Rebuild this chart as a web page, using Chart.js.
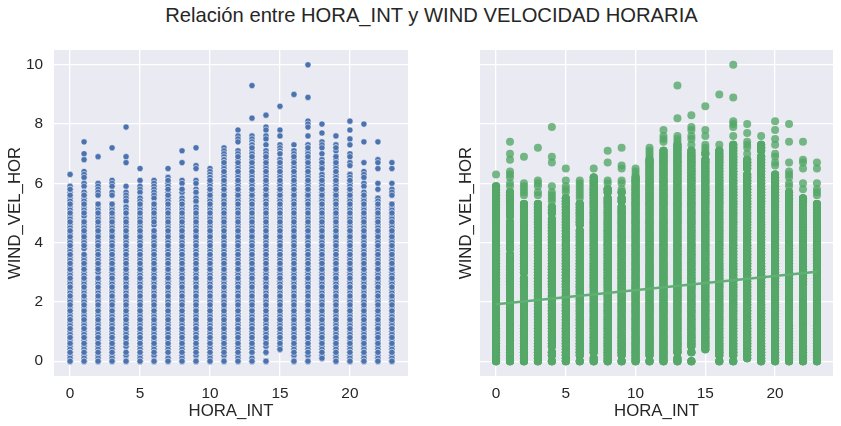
<!DOCTYPE html>
<html><head><meta charset="utf-8">
<script src="https://cdn.jsdelivr.net/npm/chart.js@4"></script>
<style>
html,body{margin:0;padding:0;background:#fff;width:841px;height:426px;overflow:hidden;font-family:"Liberation Sans",Arial,sans-serif}
#t{position:absolute;left:0;top:2px;width:863px;text-align:center;font-size:20.2px;line-height:26px;color:#262626;font-weight:normal;margin:0}
canvas{position:absolute;top:0}
</style></head><body>
<h1 id="t">Relación entre HORA_INT y WIND VELOCIDAD HORARIA</h1>
<canvas id="a" style="left:0"></canvas>
<canvas id="b" style="left:426px"></canvas>
<script>
const xLabel = "HORA_INT";
const yLabel = "WIND_VEL_HOR";
const xTicks = [0,5,10,15,20];
const yTicks = [0,2,4,6,8,10];
const regX = [0,23];
const regY = [1.92,3.02];
// values drawn last in each column: the most frequent readings
const frequent = [0,0.3,0.6,0.8,1.1,1.4,1.7,1.9,2.2,2.5,2.8,3.1,3.3,3.6,3.9,4.2,4.4,4.7,5.0,5.3,5.6,5.8,6.1,6.4,6.7,6.9,7.2];
// per hour, the level below which the column is many observations deep
const denseTop = [5.9,5.7,5.3,5.3,5.2,5.5,5.3,6.2,5.8,5.7,6.2,6.8,7.1,7.3,7.1,7.0,7.1,7.3,6.8,7.3,6.3,5.7,5.5,5.3];
const h0=[6.3,5.9,5.8,5.7,5.6,5.5,5.4,5.3,5.2,5.1,5.0,4.9,4.8,4.7,4.6,4.5,4.4,4.3,4.2,4.1,4.0,3.9,3.8,3.7,3.6,3.5,3.4,3.3,3.2,3.1,3.0,2.9,2.8,2.7,2.6,2.5,2.4,2.3,2.2,2.1,2.0,1.9,1.8,1.7,1.6,1.5,1.4,1.3,1.2,1.1,1.0,0.9,0.8,0.7,0.6,0.5,0.4,0.3,0.2,0.1,0];
const h1=[7.4,7.0,6.8,6.4,6.3,6.2,6.0,5.9,5.7,5.6,5.5,5.4,5.3,5.2,5.1,5.0,4.9,4.7,4.6,4.5,4.4,4.3,4.2,4.1,4.0,3.9,3.8,3.6,3.5,3.4,3.3,3.2,3.1,3.0,2.9,2.8,2.7,2.6,2.5,2.4,2.3,2.2,2.1,2.0,1.9,1.8,1.7,1.6,1.5,1.4,1.3,1.2,1.1,1.0,0.9,0.8,0.7,0.6,0.5,0.4,0.3,0.2,0.1,0];
const h2=[6.9,6.0,5.9,5.8,5.7,5.6,5.3,5.2,5.1,5.0,4.9,4.8,4.7,4.6,4.5,4.4,4.3,4.2,4.1,4.0,3.9,3.8,3.7,3.6,3.5,3.4,3.3,3.2,3.1,3.0,2.8,2.7,2.6,2.5,2.4,2.3,2.2,2.1,2.0,1.9,1.8,1.7,1.6,1.5,1.4,1.3,1.2,1.1,1.0,0.9,0.8,0.7,0.6,0.5,0.4,0.3,0.2,0.1,0];
const h3=[7.2,6.1,6.0,5.9,5.7,5.6,5.3,5.2,5.1,5.0,4.9,4.8,4.7,4.6,4.5,4.4,4.3,4.2,4.1,4.0,3.9,3.8,3.7,3.6,3.5,3.4,3.3,3.2,3.1,3.0,2.9,2.8,2.7,2.6,2.5,2.4,2.3,2.2,2.1,2.0,1.9,1.8,1.7,1.6,1.5,1.4,1.3,1.2,1.1,1.0,0.9,0.8,0.7,0.6,0.5,0.4,0.3,0.2,0.1,0];
const h4=[7.9,6.9,6.7,5.9,5.7,5.6,5.5,5.4,5.2,5.1,5.0,4.8,4.7,4.6,4.5,4.4,4.3,4.2,4.1,4.0,3.9,3.8,3.7,3.6,3.5,3.4,3.3,3.2,3.1,3.0,2.9,2.8,2.7,2.6,2.5,2.4,2.3,2.2,2.1,2.0,1.9,1.8,1.7,1.6,1.5,1.4,1.3,1.2,1.1,1.0,0.9,0.8,0.7,0.6,0.5,0.3,0.2,0];
const h5=[6.5,6.1,5.9,5.8,5.7,5.5,5.4,5.3,5.2,5.1,5.0,4.9,4.8,4.7,4.6,4.5,4.4,4.3,4.2,4.1,4.0,3.9,3.8,3.7,3.6,3.5,3.4,3.3,3.2,3.1,3.0,2.9,2.8,2.7,2.6,2.5,2.4,2.3,2.2,2.1,2.0,1.9,1.8,1.7,1.6,1.5,1.4,1.3,1.2,1.1,1.0,0.9,0.8,0.7,0.6,0.5,0.4,0.3,0.2,0.1,0];
const h6=[6.1,6.0,5.9,5.8,5.7,5.6,5.5,5.3,5.2,5.1,5.0,4.9,4.8,4.7,4.6,4.4,4.3,4.2,4.1,4.0,3.9,3.8,3.7,3.6,3.5,3.4,3.3,3.2,3.1,3.0,2.9,2.8,2.7,2.6,2.5,2.4,2.3,2.2,2.1,2.0,1.9,1.8,1.7,1.6,1.5,1.4,1.3,1.2,1.1,1.0,0.9,0.8,0.7,0.6,0.5,0.4,0.3,0.2,0];
const h7=[6.5,6.2,6.1,6.0,5.9,5.8,5.7,5.6,5.5,5.4,5.3,5.2,5.1,5.0,4.9,4.8,4.7,4.6,4.5,4.4,4.3,4.2,4.1,4.0,3.9,3.8,3.7,3.6,3.5,3.4,3.3,3.2,3.1,3.0,2.9,2.8,2.7,2.6,2.5,2.4,2.3,2.2,2.1,2.0,1.9,1.8,1.7,1.6,1.5,1.4,1.3,1.2,1.1,1.0,0.9,0.8,0.7,0.6,0.5,0.4,0.3,0.1,0];
const h8=[7.1,6.7,6.1,6.0,5.8,5.7,5.5,5.4,5.3,5.2,5.1,5.0,4.9,4.8,4.7,4.6,4.5,4.4,4.3,4.2,4.1,4.0,3.9,3.8,3.7,3.6,3.5,3.4,3.3,3.2,3.1,3.0,2.9,2.8,2.7,2.6,2.5,2.4,2.3,2.2,2.1,2.0,1.9,1.8,1.7,1.6,1.5,1.4,1.3,1.2,1.1,1.0,0.9,0.8,0.7,0.6,0.5,0.4,0.3,0.2,0.1,0];
const h9=[7.2,6.6,6.5,6.1,6.0,5.8,5.7,5.5,5.4,5.2,5.1,5.0,4.9,4.8,4.7,4.6,4.5,4.4,4.3,4.2,4.1,4.0,3.9,3.8,3.7,3.6,3.5,3.4,3.3,3.2,3.1,3.0,2.9,2.8,2.7,2.6,2.5,2.4,2.3,2.2,2.1,2.0,1.9,1.8,1.7,1.6,1.5,1.4,1.3,1.2,1.1,1.0,0.9,0.8,0.7,0.6,0.5,0.4,0.3,0.2,0];
const h10=[6.5,6.4,6.3,6.2,6.1,6.0,5.9,5.8,5.7,5.6,5.5,5.4,5.3,5.2,5.1,5.0,4.9,4.8,4.7,4.6,4.5,4.4,4.3,4.2,4.1,4.0,3.9,3.8,3.7,3.6,3.5,3.4,3.3,3.2,3.1,3.0,2.9,2.8,2.7,2.6,2.5,2.4,2.3,2.2,2.1,2.0,1.9,1.8,1.7,1.6,1.5,1.4,1.3,1.2,1.1,1.0,0.9,0.8,0.7,0.6,0.5,0.4,0.3,0.2,0.1,0];
const h11=[7.2,7.1,7.0,6.9,6.8,6.7,6.6,6.5,6.4,6.3,6.2,6.1,6.0,5.9,5.8,5.7,5.6,5.5,5.4,5.3,5.2,5.1,5.0,4.9,4.8,4.7,4.6,4.5,4.4,4.3,4.2,4.1,4.0,3.9,3.8,3.7,3.6,3.5,3.4,3.3,3.2,3.1,3.0,2.9,2.8,2.7,2.6,2.5,2.4,2.3,2.2,2.1,2.0,1.9,1.8,1.7,1.6,1.5,1.4,1.3,1.2,1.1,1.0,0.9,0.8,0.7,0.6,0.5,0.4,0.3,0.2,0];
const h12=[7.8,7.6,7.5,7.4,7.1,7.0,6.9,6.8,6.7,6.6,6.5,6.4,6.3,6.2,6.1,6.0,5.9,5.8,5.7,5.6,5.5,5.4,5.3,5.2,5.1,5.0,4.9,4.8,4.7,4.6,4.5,4.4,4.3,4.2,4.1,4.0,3.9,3.8,3.7,3.6,3.5,3.4,3.3,3.2,3.1,3.0,2.9,2.8,2.7,2.6,2.5,2.4,2.3,2.2,2.1,2.0,1.9,1.8,1.7,1.6,1.5,1.4,1.3,1.2,1.1,1.0,0.9,0.8,0.7,0.6,0.5,0.4,0.3,0.2,0.1,0];
const h13=[9.3,8.2,7.6,7.5,7.4,7.3,7.2,7.1,7.0,6.9,6.8,6.7,6.6,6.5,6.4,6.3,6.2,6.1,6.0,5.9,5.8,5.7,5.6,5.5,5.4,5.3,5.2,5.1,5.0,4.9,4.8,4.7,4.6,4.5,4.4,4.3,4.2,4.1,4.0,3.9,3.8,3.7,3.6,3.5,3.4,3.3,3.2,3.1,3.0,2.9,2.8,2.7,2.6,2.5,2.4,2.3,2.2,2.1,2.0,1.9,1.8,1.7,1.6,1.5,1.4,1.3,1.2,1.1,1.0,0.9,0.8,0.7,0.6,0.5,0.4,0.3,0.1,0];
const h14=[8.3,7.9,7.8,7.6,7.5,7.3,7.1,7.0,6.9,6.8,6.7,6.6,6.5,6.4,6.3,6.2,6.1,6.0,5.9,5.8,5.7,5.6,5.5,5.4,5.3,5.2,5.1,5.0,4.9,4.8,4.7,4.6,4.5,4.4,4.3,4.2,4.1,4.0,3.9,3.8,3.7,3.6,3.5,3.4,3.3,3.2,3.1,3.0,2.9,2.8,2.7,2.6,2.5,2.4,2.3,2.2,2.1,2.0,1.9,1.8,1.7,1.6,1.5,1.4,1.3,1.2,1.1,1.0,0.9,0.8,0.7,0.6,0.5,0.3,0];
const h15=[8.6,7.8,7.6,7.3,7.2,7.1,7.0,6.8,6.7,6.6,6.5,6.4,6.3,6.2,6.1,6.0,5.9,5.8,5.7,5.6,5.5,5.4,5.3,5.2,5.1,5.0,4.9,4.8,4.7,4.6,4.5,4.4,4.3,4.2,4.1,4.0,3.9,3.8,3.7,3.6,3.5,3.4,3.3,3.2,3.1,3.0,2.9,2.8,2.7,2.6,2.5,2.4,2.3,2.2,2.1,2.0,1.9,1.8,1.7,1.6,1.5,1.4,1.3,1.2,1.1,1.0,0.9,0.8,0.7,0.6,0.5,0.4];
const h16=[9.0,7.3,7.1,7.0,6.9,6.8,6.7,6.6,6.5,6.4,6.3,6.2,6.1,6.0,5.9,5.8,5.7,5.6,5.5,5.4,5.3,5.2,5.1,5.0,4.9,4.8,4.7,4.6,4.5,4.4,4.3,4.2,4.1,4.0,3.9,3.8,3.7,3.6,3.5,3.4,3.3,3.2,3.1,3.0,2.9,2.8,2.7,2.6,2.5,2.4,2.3,2.2,2.1,2.0,1.9,1.8,1.7,1.6,1.5,1.4,1.3,1.2,1.1,1.0,0.9,0.8,0.7,0.6,0.5,0.4,0.3,0.2,0];
const h17=[10.0,8.9,8.1,8.0,7.9,7.6,7.3,7.2,7.1,7.0,6.9,6.8,6.7,6.6,6.5,6.4,6.3,6.2,6.1,6.0,5.9,5.8,5.7,5.6,5.5,5.4,5.3,5.2,5.1,5.0,4.9,4.8,4.7,4.6,4.5,4.4,4.3,4.2,4.1,4.0,3.9,3.8,3.7,3.6,3.5,3.4,3.3,3.2,3.1,3.0,2.9,2.8,2.7,2.6,2.5,2.4,2.3,2.2,2.1,2.0,1.9,1.8,1.7,1.6,1.5,1.4,1.3,1.2,1.1,1.0,0.9,0.8,0.7,0.6,0.5,0.4,0.3,0.2,0];
const h18=[8.0,7.7,7.4,7.3,7.2,7.0,6.8,6.7,6.6,6.5,6.3,6.2,6.1,6.0,5.9,5.8,5.7,5.6,5.5,5.4,5.3,5.2,5.1,5.0,4.9,4.8,4.7,4.6,4.5,4.4,4.3,4.2,4.1,4.0,3.9,3.8,3.7,3.6,3.5,3.4,3.3,3.2,3.1,3.0,2.9,2.8,2.7,2.6,2.5,2.4,2.3,2.2,2.1,2.0,1.9,1.8,1.7,1.6,1.5,1.4,1.3,1.2,1.1,1.0,0.9,0.8,0.7,0.6,0.5,0.4,0.3,0.2,0.1];
const h19=[7.6,7.3,7.2,7.1,6.9,6.8,6.7,6.6,6.5,6.4,6.3,6.2,6.1,6.0,5.9,5.8,5.7,5.6,5.5,5.4,5.3,5.2,5.1,5.0,4.9,4.8,4.7,4.6,4.5,4.4,4.3,4.2,4.1,4.0,3.9,3.8,3.7,3.6,3.5,3.4,3.3,3.2,3.1,3.0,2.9,2.8,2.7,2.6,2.5,2.4,2.3,2.2,2.1,2.0,1.9,1.8,1.7,1.6,1.5,1.4,1.3,1.2,1.1,1.0,0.9,0.8,0.7,0.6,0.5,0.4,0.3,0.2,0.1,0];
const h20=[8.1,7.8,7.5,7.3,7.0,6.9,6.7,6.6,6.3,6.2,6.1,6.0,5.9,5.8,5.7,5.6,5.5,5.4,5.3,5.2,5.1,5.0,4.9,4.8,4.7,4.6,4.5,4.4,4.3,4.2,4.1,4.0,3.9,3.8,3.7,3.6,3.5,3.4,3.3,3.2,3.1,3.0,2.9,2.8,2.7,2.6,2.5,2.4,2.3,2.2,2.1,2.0,1.9,1.8,1.7,1.6,1.5,1.4,1.3,1.2,1.1,1.0,0.9,0.8,0.7,0.6,0.5,0.4,0.3,0.2,0.1,0];
const h21=[8.0,7.4,6.7,6.4,6.3,6.2,6.0,5.9,5.7,5.6,5.5,5.4,5.3,5.2,5.1,5.0,4.9,4.8,4.7,4.6,4.5,4.4,4.3,4.2,4.1,4.0,3.9,3.8,3.7,3.6,3.5,3.4,3.3,3.2,3.1,3.0,2.9,2.8,2.7,2.6,2.5,2.4,2.3,2.2,2.1,2.0,1.9,1.8,1.7,1.6,1.5,1.4,1.3,1.2,1.1,1.0,0.9,0.8,0.7,0.6,0.5,0.4,0.3,0.2,0.1,0];
const h22=[7.4,6.8,6.7,6.5,6.0,5.8,5.5,5.4,5.3,5.2,5.1,5.0,4.9,4.8,4.7,4.6,4.5,4.4,4.3,4.2,4.1,4.0,3.9,3.8,3.7,3.6,3.5,3.4,3.3,3.2,3.1,3.0,2.9,2.8,2.7,2.6,2.5,2.4,2.3,2.2,2.1,2.0,1.9,1.8,1.7,1.6,1.5,1.4,1.3,1.2,1.1,1.0,0.9,0.8,0.7,0.6,0.5,0.4,0.3,0.2,0.1,0];
const h23=[6.7,6.5,6.0,5.8,5.7,5.6,5.3,5.2,5.1,5.0,4.9,4.8,4.7,4.6,4.5,4.4,4.3,4.2,4.1,4.0,3.9,3.8,3.7,3.6,3.5,3.4,3.3,3.2,3.1,3.0,2.9,2.8,2.7,2.6,2.5,2.4,2.3,2.2,2.1,2.0,1.9,1.8,1.7,1.6,1.5,1.4,1.3,1.2,1.1,1.0,0.9,0.8,0.7,0.6,0.5,0.4,0.3,0.2,0.1,0];
const hours=[h0,h1,h2,h3,h4,h5,h6,h7,h8,h9,h10,h11,h12,h13,h14,h15,h16,h17,h18,h19,h20,h21,h22,h23];

const points = [];
hours.forEach((list,h)=>{
  list.forEach(v=>points.push({x:h,y:v}));
  const deep = list.filter(v=>v<=denseTop[h]);
  deep.forEach(v=>points.push({x:h,y:v}));
  deep.forEach(v=>points.push({x:h,y:v}));
  deep.forEach(v=>points.push({x:h,y:v}));
  frequent.filter(v=>list.includes(v)&&v<=denseTop[h]).forEach(v=>points.push({x:h,y:v}));
});

const INK="#262626";
const bg={id:'bg',beforeDraw(c){const a=c.chartArea,g=c.ctx;g.save();g.fillStyle='#EAEAF2';g.fillRect(a.left,a.top,a.right-a.left,a.bottom-a.top);g.restore();}};
function opts(showY,right,titleTop){
  return {
    responsive:false,animation:false,devicePixelRatio:1,
    layout:{padding:{top:50,right:right,bottom:0,left:0}},
    plugins:{legend:{display:false},tooltip:{enabled:false},title:{display:false}},
    scales:{
      x:{type:'linear',min:-1.15,max:24.15,
        afterBuildTicks:s=>{s.ticks=xTicks.map(v=>({value:v}));},
        afterFit:s=>{s.height=50;},
        border:{display:false},
        grid:{color:'#fff',lineWidth:1.3,drawTicks:false},
        ticks:{color:INK,font:{family:'"Liberation Sans"',size:15.4},padding:9,maxRotation:0,callback:v=>String(v)},
        title:{display:true,text:xLabel,color:INK,font:{family:'"Liberation Sans"',size:16.8},padding:{top:0,bottom:5}}
      },
      y:{type:'linear',min:-0.5,max:10.5,
        afterBuildTicks:s=>{s.ticks=yTicks.map(v=>({value:v}));},
        afterFit:s=>{s.width=54;},
        border:{display:false},
        grid:{color:'#fff',lineWidth:1.3,drawTicks:false},
        ticks:{display:showY,color:INK,font:{family:'"Liberation Sans"',size:15.4},padding:11,callback:v=>String(v)},
        title:{display:true,text:yLabel,color:INK,font:{family:'"Liberation Sans"',size:16.8},padding:{top:titleTop,bottom:0}}
      }
    }
  };
}
function size(id,w){const c=document.getElementById(id);c.width=w;c.height=426;c.style.width=w+'px';c.style.height='426px';return c;}

new Chart(size('a',420),{type:'scatter',plugins:[bg],
  data:{datasets:[{data:points,pointRadius:3.1,pointBackgroundColor:'#4C72B0',pointBorderColor:'#fff',pointBorderWidth:0.5}]},
  options:opts(true,12,5)});

new Chart(size('b',415),{type:'scatter',plugins:[bg],
  data:{datasets:[
    {data:regX.map((x,i)=>({x,y:regY[i]})),showLine:true,borderColor:'#62AF75',borderWidth:2.6,pointRadius:0,order:0},
    {data:points,pointRadius:4,pointBackgroundColor:'rgba(85,168,104,0.8)',pointBorderWidth:0,order:1}
  ]},
  options:opts(false,8,30)});
</script>
</body></html>
